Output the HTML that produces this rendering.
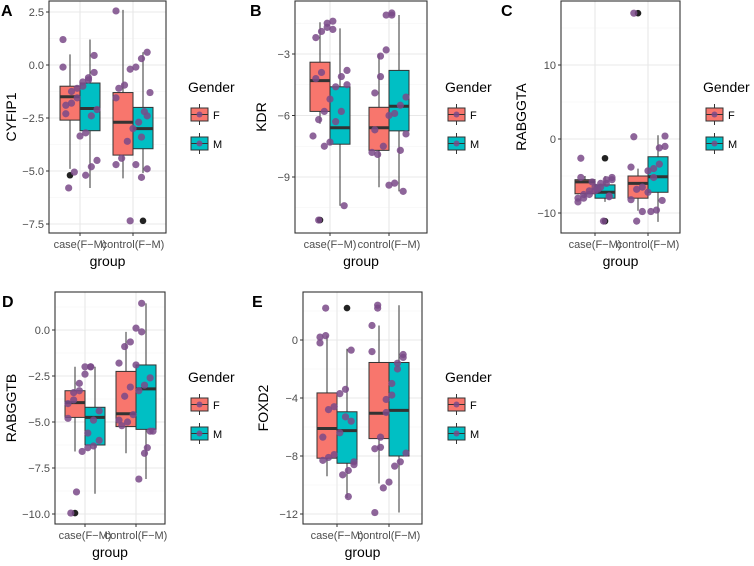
<!DOCTYPE html>
<html><head><meta charset="utf-8"><style>
html,body{margin:0;padding:0;background:#fff}
svg{display:block;font-family:"Liberation Sans",sans-serif}
</style></head><body>
<svg id="chart" width="754" height="566" viewBox="0 0 754 566" xmlns="http://www.w3.org/2000/svg"></svg>
<script>
const categories = ["case(F\u2212M)", "control(F\u2212M)"];
const genders = ["F", "M"];
const geneNames = ["CYFIP1", "KDR", "RABGGTA", "RABGGTB", "FOXD2"];
const panelLetters = ["A", "B", "C", "D", "E"];
// box stats per panel: [caseF, caseM, ctrlF, ctrlM] each [lo, q1, med, q3, hi]
const boxA = [[-4.9,-2.6,-1.5,-1.0,0.5],[-5.8,-3.1,-2.05,-0.85,1.2],[-5.35,-4.25,-2.7,-1.3,2.6],[-5.1,-3.95,-3.0,-2.0,0.6]];
const boxB = [[-6.4,-5.8,-4.3,-3.4,-1.45],[-10.4,-7.4,-6.6,-4.6,-1.75],[-9.5,-7.7,-6.6,-5.6,-3.0],[-9.7,-6.75,-5.55,-3.8,-1.1]];
const boxC = [[-8.0,-7.4,-5.8,-5.5,-5.0],[-8.5,-8.0,-7.2,-6.2,-5.0],[-9.7,-8.0,-6.0,-5.0,-4.0],[-11.2,-7.2,-5.1,-2.4,0.5]];
const boxD = [[-6.6,-4.75,-3.95,-3.3,-2.0],[-8.9,-6.25,-4.75,-4.2,-2.0],[-6.7,-5.25,-4.55,-2.25,-0.1],[-8.1,-5.4,-3.2,-1.9,1.45]];
const boxE = [[-9.4,-8.15,-6.1,-3.65,0.3],[-10.9,-8.5,-6.25,-4.95,-0.6],[-9.9,-6.8,-5.05,-1.55,1.0],[-11.9,-8.0,-4.85,-1.55,2.4]];
// outliers per panel: [groupIndex, value]
const outA = [[0,-5.2],[3,-7.35]];
const outB = [[0,-11.1]];
const outC = [[1,-2.6],[1,-11.1],[2,17.0]];
const outD = [[0,-9.95]];
const outE = [[1,2.2]];
// jittered points per panel, per group
const ptsA = [[-0.1,-0.35,-0.7,-1.0,-1.55,-1.8,-2.3,-4.5,-4.8,-5.2],[1.2,0.45,-0.6,-0.8,-1.1,-1.25,-1.9,-2.1,-2.4,-3.2,-3.35,-5.05,-5.8],[-1.55,-2.4,-3.4,-4.7,-7.35],[2.55,0.6,0.3,-0.1,-0.2,-0.95,-1.1,-1.3,-2.2,-2.7,-3.0,-3.6,-4.4,-4.7,-4.9,-5.3]];
const ptsB = [[-1.4,-1.5,-1.9,-2.2,-3.8,-4.1,-4.6,-5.2,-5.8,-6.2,-7.0,-10.4],[-1.8,-1.7,-3.9,-4.2,-4.5,-5.8,-6.3,-7.3,-7.5,-11.1],[-1.0,-1.1,-4.1,-6.7,-6.9,-7.7,-9.3,-9.4],[-1.1,-2.8,-3.1,-4.9,-5.1,-5.5,-5.9,-6.0,-7.5,-7.9,-7.8,-9.7]];
const ptsC = [[-2.6,-5.2,-5.5,-6,-6.5,-7,-7.5,-8,-7.8,-11.1,-6.8,-5.8],[-5.2,-5.5,-6,-6.5,-7,-7.5,-8,-8.5,-7.7],[0.3,-1.0,-1.2,-5.2,-7.2,-9.8,-11.1,-3.8],[17.0,0.4,-3.4,-4.0,-4.3,-6.5,-6.8,-8.2,-8.3,-9.6,-9.8]];
const ptsD = [[-2.0,-2.4,-2.9,-3.4,-4.0,-4.4,-4.9,-5.6,-6.6,-8.8,-9.95],[-2.0,-2.0,-3.3,-3.8,-4.8,-6.0,-6.3,-6.4],[-0.1,-1.9,-3.1,-3.6,-4.9,-5.5,-6.7,-8.1],[1.45,0.1,-0.65,-0.9,-1.8,-2.6,-3.0,-3.3,-4.6,-5.0,-5.2,-5.5,-6.4]];
const ptsE = [[0.3,0.2,-5.6,-5.3,-6.4,-7.9,-8.1,-8.3,-8.6,-10.8],[2.2,-0.2,-0.7,-3.4,-3.7,-4.6,-4.8,-6.7,-8.4,-9.0,-9.3],[2.2,-0.8,-1.2,-1.6,-3.8,-5.0,-7.4,-11.9],[2.4,1.0,-1.0,-2.0,-3.0,-4.1,-6.7,-7.5,-7.8,-8.4,-8.7,-9.8,-10.2]];
const ticksA = [2.5,0,-2.5,-5,-7.5], tickLabelsA = ["2.5","0.0","\u22122.5","\u22125.0","\u22127.5"];
const ticksB = [-3,-6,-9], tickLabelsB = ["\u22123","\u22126","\u22129"];
const ticksC = [10,0,-10], tickLabelsC = ["10","0","\u221210"];
const ticksD = [0,-2.5,-5,-7.5,-10], tickLabelsD = ["0.0","\u22122.5","\u22125.0","\u22127.5","\u221210.0"];
const ticksE = [0,-4,-8,-12], tickLabelsE = ["0","\u22124","\u22128","\u221212"];

// layout (not data)
const layouts = [
 {x0:49,y0:1,x1:166,y1:233,tA:2.5,pA:12,tB:-7.5,pB:224,cx:[80,133],lx:188,ly:87},
 {x0:295,y0:1,x1:427,y1:233,tA:-3,pA:54,tB:-9,pB:177,cx:[330,389],lx:445,ly:87},
 {x0:561,y0:1,x1:680,y1:233,tA:10,pA:65,tB:-10,pB:213,cx:[595,648],lx:703,ly:87},
 {x0:55,y0:292,x1:165,y1:524,tA:0,pA:330,tB:-10,pB:514,cx:[85,136],lx:188,ly:377},
 {x0:303,y0:292,x1:422,y1:524,tA:0,pA:340,tB:-12,pB:514,cx:[337,389],lx:445,ly:377}
];
const boxes=[boxA,boxB,boxC,boxD,boxE], outs=[outA,outB,outC,outD,outE], pts=[ptsA,ptsB,ptsC,ptsD,ptsE];
const ticks=[ticksA,ticksB,ticksC,ticksD,ticksE], tickLabels=[tickLabelsA,tickLabelsB,tickLabelsC,tickLabelsD,tickLabelsE];
const fills={F:"#F8766D",M:"#00BFC4"};
const svg=document.getElementById("chart");
const NS="http://www.w3.org/2000/svg";
function mk(tag,attrs,parent,text){const e=document.createElementNS(NS,tag);for(const k in attrs)e.setAttribute(k,attrs[k]);if(text!==undefined)e.textContent=text;(parent||svg).appendChild(e);return e;}

layouts.forEach((L,pi)=>{
 const g=mk("g",{});
 
 
 const y=v=>L.pA+(v-L.tA)*(L.pB-L.pA)/(L.tB-L.tA);
 // grid
 const tk=ticks[pi], step=tk[0]-tk[1];
 for(let i=-1;i<tk.length;i++){const mv=(i<0?tk[0]+step/2:tk[i]-step/2);const yy=y(mv);if(yy>L.y0&&yy<L.y1){const m=mk("line",{x1:L.x0,x2:L.x1,y1:yy,y2:yy,stroke:"#f3f3f3","stroke-width":0.6},g);}}
 tk.forEach((t,i)=>{const yy=y(t);
  const gl=mk("line",{x1:L.x0,x2:L.x1,y1:yy,y2:yy,stroke:"#e8e8e8","stroke-width":1.1},g);
  
  mk("line",{x1:L.x0-3,x2:L.x0,y1:yy,y2:yy,stroke:"#333","stroke-width":1},g);
  const tl=mk("text",{x:L.x0-5,y:yy+4,"text-anchor":"end","font-size":11,fill:"#4d4d4d"},g,tickLabels[pi][i]);
  
 });
 L.cx.forEach(c=>{mk("line",{x1:c,x2:c,y1:L.y0,y2:L.y1,stroke:"#e8e8e8","stroke-width":1.1},g);mk("line",{x1:c,x2:c,y1:L.y1,y2:L.y1+3,stroke:"#333"},g);});
 // boxes
 boxes[pi].forEach((b,gi)=>{
  const c=L.cx[gi>>1], gd=genders[gi&1], xl=gd==="F"?c-20:c, xm=xl+10;
  const bg=mk("g",{},g);
  
  
  mk("line",{x1:xm,x2:xm,y1:y(b[0]),y2:y(b[4]),stroke:"#333","stroke-width":1},bg);
  mk("rect",{x:xl,y:y(b[3]),width:20,height:y(b[1])-y(b[3]),fill:fills[gd],stroke:"#333","stroke-width":1},bg);
  mk("line",{x1:xl,x2:xl+20,y1:y(b[2]),y2:y(b[2]),stroke:"#333","stroke-width":3},bg);
 });
 outs[pi].forEach(o=>{const gi=o[0],c=L.cx[gi>>1],xm=(gi&1?c+10:c-10);
  const oc=mk("circle",{cx:xm,cy:y(o[1]),r:3.3,fill:"#222"},g);
  });
 // jitter points
 pts[pi].forEach((arr,gi)=>{const c=L.cx[gi>>1];
  arr.forEach((v,i)=>{const off=(((i*37+gi*13+pi*7)%13)-6)/6*17;
   const p=mk("circle",{cx:c+off,cy:y(v),r:3.6,fill:"#7a4a88","fill-opacity":0.85},g);
   });});
 // frame
 const fr=mk("rect",{x:L.x0,y:L.y0,width:L.x1-L.x0,height:L.y1-L.y0,fill:"none",stroke:"#333","stroke-width":1.1},g);
 
 // x labels
 categories.forEach((cat,ci)=>{const t=mk("text",{x:L.cx[ci],y:L.y1+15,"text-anchor":"middle","font-size":11,fill:"#4d4d4d"},g,cat);
  });
 const xt=mk("text",{x:(L.x0+L.x1)/2,y:L.y1+33,"text-anchor":"middle","font-size":14,fill:"#000"},g,"group");
 
 const cy=(L.y0+L.y1)/2, ax=pi===2||pi===4?L.x0-40:L.x0-34;
 const yt=mk("text",{x:pi===0?11:(pi===3?11:ax),y:cy,"text-anchor":"middle","font-size":14,fill:"#000",transform:`rotate(-90 ${pi===0||pi===3?11:ax} ${cy})`,dy:"5"},g,geneNames[pi]);
 
 const pl=mk("text",{x:(pi%3===0?1:L.x0-45)+ (pi===0||pi===3?0:0),y:L.y0+15,"font-size":16,"font-weight":"bold",fill:"#000"},g,panelLetters[pi]);
 if(pi===1)pl.setAttribute("x",250); if(pi===2)pl.setAttribute("x",501); if(pi===4)pl.setAttribute("x",252); if(pi===3)pl.setAttribute("x",2);
 
 // legend
 const lg=mk("g",{},g);
 
 mk("text",{x:L.lx,y:L.ly+5,"font-size":14,fill:"#000"},lg,"Gender");
 genders.forEach((gd,k)=>{const ky=L.ly+21+k*29, kx=L.lx+3;
  const ke=mk("g",{},lg);
  
  mk("line",{x1:kx+8.5,x2:kx+8.5,y1:ky-4,y2:ky+17,stroke:"#333"},ke);
  mk("rect",{x:kx,y:ky,width:17,height:13,fill:fills[gd],stroke:"#333"},ke);
  mk("line",{x1:kx,x2:kx+17,y1:ky+6.5,y2:ky+6.5,stroke:"#333"},ke);
  mk("circle",{cx:kx+8.5,cy:ky+6.5,r:3,fill:"#7a4a88","fill-opacity":0.85},ke);
  mk("text",{x:kx+22,y:ky+11,"font-size":11,fill:"#000"},ke,gd);
 });
});
</script>
</body></html>
